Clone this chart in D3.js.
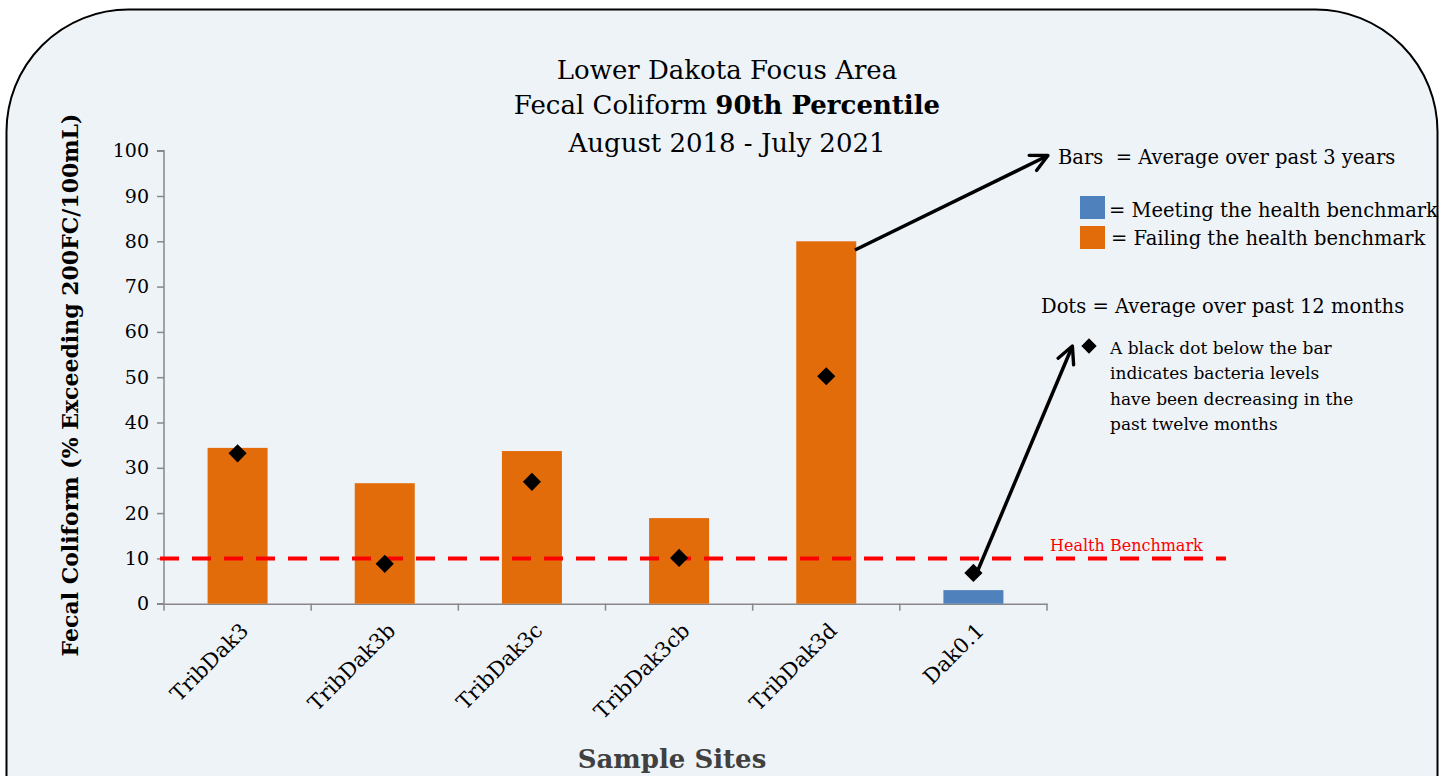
<!DOCTYPE html>
<html><head><meta charset="utf-8">
<script src="https://cdn.jsdelivr.net/npm/d3@7"></script>
<style>body{margin:0;background:#fff}svg{display:block}</style>
</head><body>
<svg id="c" width="1449" height="776"></svg>
<script>
const categories = ["TribDak3","TribDak3b","TribDak3c","TribDak3cb","TribDak3d","Dak0.1"];
const barValues = [34.4, 26.6, 33.7, 18.9, 80.0, 3.0];
const dotValues = [33.2, 8.8, 26.9, 10.1, 50.2, 6.8];
const meetsBenchmark = [false,false,false,false,false,true];
const yTicks = [0,10,20,30,40,50,60,70,80,90,100];
const benchmark = 10;

const svg = d3.select("#c");
const serif = "'DejaVu Serif', serif";
const ORANGE = "#E36C0A", BLUE = "#4F81BD";

svg.append("rect").attr("x",6.5).attr("y",9.5).attr("width",1431).attr("height",900)
  .attr("rx",122).attr("ry",122).attr("fill","#EEF3F8").attr("stroke","#000").attr("stroke-width",2);

const x = d3.scaleBand().domain(categories).range([164,1047]).paddingInner(0).paddingOuter(0);
const y = d3.scaleLinear().domain([0,100]).range([603.7,150.7]);

const yAxis = svg.append("g").attr("transform","translate(164,0)")
  .call(d3.axisLeft(y).tickValues(yTicks).tickSize(7).tickPadding(8));
yAxis.select(".domain").attr("stroke","#888").attr("stroke-width",1.5).attr("d","M-7,150.7H0V603.7H-7");
yAxis.selectAll(".tick line").attr("stroke","#888").attr("stroke-width",1.5);
yAxis.selectAll("text").attr("font-family",serif).attr("font-size",19).attr("fill","#000");

const xAxis = svg.append("g").attr("transform","translate(0,603.7)")
  .call(d3.axisBottom(x).tickSize(0).tickFormat(""));
xAxis.select(".domain").attr("stroke","#888").attr("stroke-width",1.5);
const bounds = categories.map(c=>x(c)).concat([x.range()[1]]);
svg.append("g").selectAll("line").data(bounds).join("line")
  .attr("x1",d=>d).attr("x2",d=>d).attr("y1",603.7).attr("y2",610.7)
  .attr("stroke","#888").attr("stroke-width",1.5);

const bw = 60;
svg.append("g").selectAll("rect").data(categories).join("rect")
  .attr("x",(c)=>x(c)+x.bandwidth()/2-bw/2)
  .attr("width",bw)
  .attr("y",(c,i)=>y(barValues[i]))
  .attr("height",(c,i)=>y(0)-y(barValues[i]))
  .attr("fill",(c,i)=>meetsBenchmark[i]?BLUE:ORANGE);

svg.append("line").attr("x1",160).attr("x2",1226).attr("y1",y(benchmark)).attr("y2",y(benchmark))
  .attr("stroke","#FF0000").attr("stroke-width",4).attr("stroke-dasharray","19,13");
svg.append("text").attr("x",1050).attr("y",y(benchmark)-7).attr("font-family",serif)
  .attr("font-size",16).attr("fill","#FF0000").text("Health  Benchmark");

const diamond = d3.symbol().type(d3.symbolDiamond2).size(210);
svg.append("g").selectAll("path").data(categories).join("path")
  .attr("d",diamond)
  .attr("transform",(c,i)=>`translate(${x(c)+x.bandwidth()/2},${y(dotValues[i])})`)
  .attr("fill","#000");

svg.append("g").selectAll("text").data(categories).join("text")
  .attr("transform",c=>`translate(${x(c)+x.bandwidth()/2+12},${632}) rotate(-45)`)
  .attr("text-anchor","end").attr("font-family",serif).attr("font-size",21).attr("fill","#000")
  .text(c=>c);

const t = svg.append("text").attr("text-anchor","middle").attr("font-family",serif).attr("font-size",26).attr("fill","#000");
t.append("tspan").attr("x",727).attr("y",79).text("Lower Dakota Focus Area");
const t2 = t.append("tspan").attr("x",727).attr("y",114);
t2.append("tspan").text("Fecal Coliform ");
t2.append("tspan").attr("font-weight","bold").text("90th Percentile");
t.append("tspan").attr("x",727).attr("y",152).text("August 2018 - July 2021");

svg.append("text").attr("transform","translate(78,385) rotate(-90)").attr("text-anchor","middle")
  .attr("font-family",serif).attr("font-weight","bold").attr("font-size",22).attr("fill","#000")
  .text("Fecal Coliform (% Exceeding 200FC/100mL)");
svg.append("text").attr("x",672).attr("y",768).attr("text-anchor","middle")
  .attr("font-family",serif).attr("font-weight","bold").attr("font-size",26).attr("fill","#404040")
  .text("Sample Sites");

const lf = 19.5;
svg.append("text").attr("x",1058).attr("y",164).attr("font-family",serif).attr("font-size",lf).attr("xml:space","preserve")
  .text("Bars  = Average over past 3 years");
svg.append("rect").attr("x",1080).attr("y",196).attr("width",25).attr("height",23).attr("fill",BLUE);
svg.append("rect").attr("x",1080).attr("y",226).attr("width",25).attr("height",23).attr("fill",ORANGE);
svg.append("text").attr("x",1109).attr("y",217).attr("font-family",serif).attr("font-size",lf).text("= Meeting the health benchmark");
svg.append("text").attr("x",1111).attr("y",245).attr("font-family",serif).attr("font-size",lf).text("= Failing the health benchmark");
svg.append("text").attr("x",1041).attr("y",313).attr("font-family",serif).attr("font-size",lf).text("Dots = Average over past 12 months");
svg.append("path").attr("d",d3.symbol().type(d3.symbolDiamond2).size(150))
  .attr("transform","translate(1089,346)").attr("fill","#000");
const small = ["A black dot below the bar","indicates bacteria levels","have been decreasing in the","past twelve months"];
svg.append("g").selectAll("text").data(small).join("text")
  .attr("x",1110).attr("y",(d,i)=>354+i*25.3).attr("font-family",serif).attr("font-size",17).text(d=>d);

const defs = svg.append("defs");
defs.append("marker").attr("id","ah").attr("viewBox","0 0 10 10").attr("refX",8.5).attr("refY",5)
  .attr("markerWidth",6).attr("markerHeight",6).attr("orient","auto")
  .append("path").attr("d","M1,1L9,5L1,9").attr("fill","none").attr("stroke","#000")
  .attr("stroke-width",1.6).attr("stroke-linecap","round").attr("stroke-linejoin","round");
svg.append("line").attr("x1",855).attr("y1",250).attr("x2",1047).attr("y2",156)
  .attr("stroke","#000").attr("stroke-width",3.5).attr("marker-end","url(#ah)");
svg.append("line").attr("x1",978).attr("y1",570).attr("x2",1072).attr("y2",347)
  .attr("stroke","#000").attr("stroke-width",3.5).attr("marker-end","url(#ah)");
</script>
</body></html>
